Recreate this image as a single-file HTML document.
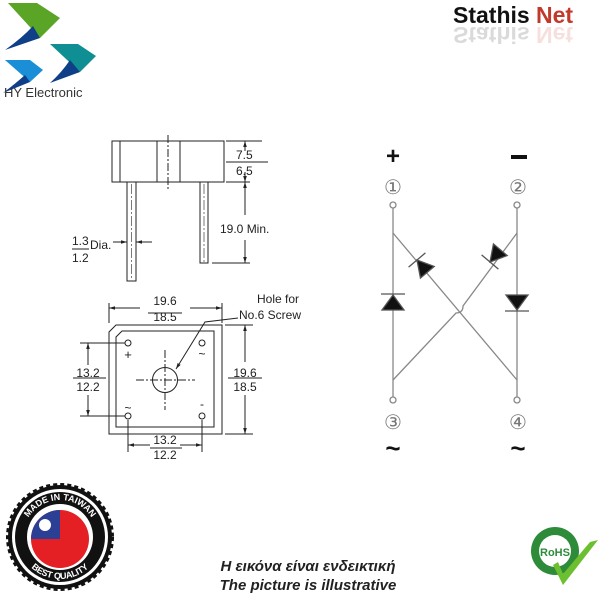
<!DOCTYPE html>
<html><head><meta charset="utf-8"><style>
html,body{margin:0;padding:0;background:#fff;}
svg{display:block;font-family:"Liberation Sans",sans-serif;}
</style></head><body>
<svg width="600" height="600" viewBox="0 0 600 600" xmlns="http://www.w3.org/2000/svg">
<defs>
<marker id="a" viewBox="0 0 10 10" refX="10" refY="5" markerWidth="6" markerHeight="6" orient="auto-start-reverse"><path d="M0,2 L10,5 L0,8 z" fill="#222"/></marker>
<path id="tc" d="M60,537 m-37,0 a37,37 0 1,1 74,0"/>
<path id="bc" d="M60,537 m-44,0 a44,44 0 0,0 88,0"/>
</defs>
<!-- HY logo -->
<path d="M8,3 L37,3 L60,18 L40,38 Z" fill="#5aa526"/>
<path d="M33,26 L40,38 L5,50 Q22,38 33,26 Z" fill="#0f3f87"/>
<path d="M50,44 L78,44 L96,56 L80,72 Z" fill="#0f8f94"/>
<path d="M70,60 L80,72 L50,83 Q62,72 70,60 Z" fill="#0f3f87"/>
<path d="M5,60 L30,60 L43,70 L30,82 Z" fill="#1a8fd8"/>
<path d="M25,75 L30,82 L3,93 Q15,84 25,75 Z" fill="#0f3f87"/>
<text x="4" y="97" font-size="13" fill="#333">HY Electronic</text>
<!-- StathisNet -->
<text x="453" y="23" font-size="23" font-weight="bold" fill="#111">Stathis</text>
<text x="536" y="23" font-size="23" font-weight="bold" fill="#c0392b">Net</text>
<g transform="translate(0,50) scale(1,-1)" opacity="0.15"><text x="453" y="23" font-size="23" font-weight="bold" fill="#111">Stathis</text><text x="536" y="23" font-size="23" font-weight="bold" fill="#c0392b">Net</text></g>

<g stroke="#222" stroke-width="1" fill="none">
<rect x="112" y="141" width="112" height="41"/>
<line x1="120" y1="141" x2="120" y2="182"/>
<line x1="157" y1="141" x2="157" y2="182"/>
<line x1="180" y1="141" x2="180" y2="182"/>
<line x1="168" y1="135" x2="168" y2="189" stroke-dasharray="8,2,2,2"/>
<rect x="127" y="182" width="9" height="99"/>
<line x1="131.5" y1="184" x2="131.5" y2="280" stroke-dasharray="10,2,2,2" stroke-width="0.6"/>
<rect x="200" y="182" width="8" height="81"/>
<line x1="204" y1="184" x2="204" y2="262" stroke-dasharray="10,2,2,2" stroke-width="0.6"/>
<line x1="226" y1="141" x2="262" y2="141"/>
<line x1="226" y1="162" x2="268" y2="162"/>
<line x1="226" y1="182" x2="250" y2="182"/>
<line x1="212" y1="263" x2="250" y2="263"/>
<line x1="245" y1="151" x2="245" y2="141" marker-end="url(#a)"/>
<line x1="245" y1="172" x2="245" y2="182" marker-end="url(#a)"/>
<line x1="245" y1="215" x2="245" y2="182" marker-end="url(#a)"/>
<line x1="245" y1="240" x2="245" y2="263" marker-end="url(#a)"/>
<line x1="113" y1="242" x2="127" y2="242" marker-end="url(#a)"/>
<line x1="152" y1="242" x2="136" y2="242" marker-end="url(#a)"/>
<line x1="72" y1="249" x2="89" y2="249"/>
<path d="M116,325 L222,325 L222,434 L109,434 L109,332 Z"/>
<path d="M122,331 L214,331 L214,427 L116,427 L116,337 Z"/>
<circle cx="128" cy="343" r="3"/><circle cx="202" cy="343" r="3"/>
<circle cx="128" cy="416" r="3"/><circle cx="202" cy="416" r="3"/>
<circle cx="165" cy="380" r="12.5"/>
<line x1="136" y1="380" x2="195" y2="380" stroke-dasharray="8,2,2,2"/>
<line x1="165" y1="350" x2="165" y2="410" stroke-dasharray="8,2,2,2"/>
<line x1="109" y1="303" x2="109" y2="323"/><line x1="222" y1="303" x2="222" y2="323"/>
<line x1="140" y1="308" x2="109" y2="308" marker-end="url(#a)"/>
<line x1="190" y1="308" x2="222" y2="308" marker-end="url(#a)"/>
<line x1="148" y1="313" x2="182" y2="313"/>
<path d="M238,318 L205,322 L176,369" marker-end="url(#a)"/>
<line x1="80" y1="343" x2="125" y2="343"/><line x1="80" y1="416" x2="125" y2="416"/>
<line x1="88" y1="365" x2="88" y2="343" marker-end="url(#a)"/>
<line x1="88" y1="395" x2="88" y2="416" marker-end="url(#a)"/>
<line x1="73" y1="378" x2="106" y2="378"/>
<line x1="225" y1="325" x2="253" y2="325"/><line x1="225" y1="434" x2="253" y2="434"/>
<line x1="245" y1="362" x2="245" y2="325" marker-end="url(#a)"/>
<line x1="245" y1="395" x2="245" y2="434" marker-end="url(#a)"/>
<line x1="228" y1="378" x2="262" y2="378"/>
<line x1="128" y1="420" x2="128" y2="452"/><line x1="202" y1="420" x2="202" y2="452"/>
<line x1="150" y1="445" x2="128" y2="445" marker-end="url(#a)"/>
<line x1="180" y1="445" x2="202" y2="445" marker-end="url(#a)"/>
<line x1="150" y1="448" x2="182" y2="448"/>
</g>
<g fill="#222" font-size="12">
<text x="236" y="159">7.5</text><text x="236" y="175">6.5</text>
<text x="220" y="233">19.0 Min.</text>
<text x="72" y="245">1.3</text><text x="90" y="249">Dia.</text><text x="72" y="262">1.2</text>
<text x="165" y="305" text-anchor="middle">19.6</text><text x="165" y="321" text-anchor="middle">18.5</text>
<text x="278" y="303" text-anchor="middle">Hole for</text><text x="270" y="319" text-anchor="middle">No.6 Screw</text>
<text x="88" y="377" text-anchor="middle">13.2</text><text x="88" y="391" text-anchor="middle">12.2</text>
<text x="245" y="377" text-anchor="middle">19.6</text><text x="245" y="391" text-anchor="middle">18.5</text>
<text x="165" y="444" text-anchor="middle">13.2</text><text x="165" y="459" text-anchor="middle">12.2</text>
<text x="128" y="359" text-anchor="middle" font-size="13">+</text>
<text x="202" y="358" text-anchor="middle">~</text>
<text x="128" y="412" text-anchor="middle">~</text>
<text x="202" y="408" text-anchor="middle">-</text>
</g>

<g stroke="#888" stroke-width="1.3" fill="none">
<line x1="393" y1="208" x2="393" y2="397"/>
<line x1="517" y1="208" x2="517" y2="397"/>
<line x1="393" y1="233" x2="517" y2="380"/>
<path d="M517,233 L463,306 Q463,313 456,313 L393,380"/>
<circle cx="393" cy="205" r="3" fill="#fff"/><circle cx="517" cy="205" r="3" fill="#fff"/>
<circle cx="393" cy="400" r="3" fill="#fff"/><circle cx="517" cy="400" r="3" fill="#fff"/>
</g>
<g fill="#111" stroke="#555" stroke-width="1.3">
<polygon points="393,295 382,310 404,310"/><line x1="381" y1="294" x2="405" y2="294"/>
<polygon points="517,310 506,295 528,295"/><line x1="505" y1="311" x2="529" y2="311"/>
<g transform="translate(417,260) rotate(-130.2)"><polygon points="0,0 -16,-9 -16,9"/><line x1="0" y1="-11" x2="0" y2="11"/></g>
<g transform="translate(490,262) rotate(130.2)"><polygon points="0,0 -16,-9 -16,9"/><line x1="0" y1="-11" x2="0" y2="11"/></g>
</g>
<g font-family="'Liberation Serif','DejaVu Serif',serif" fill="#777" font-size="20" text-anchor="middle">
<text x="393" y="194">①</text><text x="518" y="194">②</text>
<text x="393" y="429">③</text><text x="518" y="429">④</text>
</g>
<g font-weight="bold" fill="#111" text-anchor="middle">
<text x="393" y="164" font-size="24">+</text>
<rect x="511" y="155" width="16" height="4"/>
<text x="393" y="457" font-size="26">~</text><text x="518" y="457" font-size="26">~</text>
</g>

<circle cx="60" cy="537" r="52" fill="#111" stroke="#111" stroke-width="4" stroke-dasharray="4,3"/>
<circle cx="60" cy="537" r="48" fill="#fff"/>
<circle cx="60" cy="537" r="45" fill="#111"/>
<circle cx="60" cy="537" r="33" fill="#fff"/>
<circle cx="60" cy="539" r="29" fill="#e52025"/>
<path d="M31,539 A29,29 0 0,1 60,510 L60,539 Z" fill="#2b3f94"/>
<circle cx="45" cy="525" r="6" fill="#fff"/>
<g font-weight="bold" font-size="9" fill="#fff">
<text><textPath href="#tc" startOffset="50%" text-anchor="middle">MADE IN TAIWAN</textPath></text>
<text dy="-2"><textPath href="#bc" startOffset="50%" text-anchor="middle">BEST QUALITY</textPath></text>
</g>

<g font-style="italic" font-weight="bold" font-size="15" fill="#222" text-anchor="middle">
<text x="308" y="571">Η εικόνα είναι ενδεικτική</text>
<text x="308" y="590">The picture is illustrative</text>
</g>

<circle cx="555" cy="551" r="24" fill="#2e8b3a"/>
<circle cx="555" cy="551" r="16" fill="#fff"/>
<text x="555" y="556" font-size="11" font-weight="bold" fill="#2e8b3a" text-anchor="middle">RoHS</text>
<path d="M553,565 L563,585 L598,540 L590,542 L563,574 L558,562 Z" fill="#6cbf2e"/>
</svg>
</body></html>
